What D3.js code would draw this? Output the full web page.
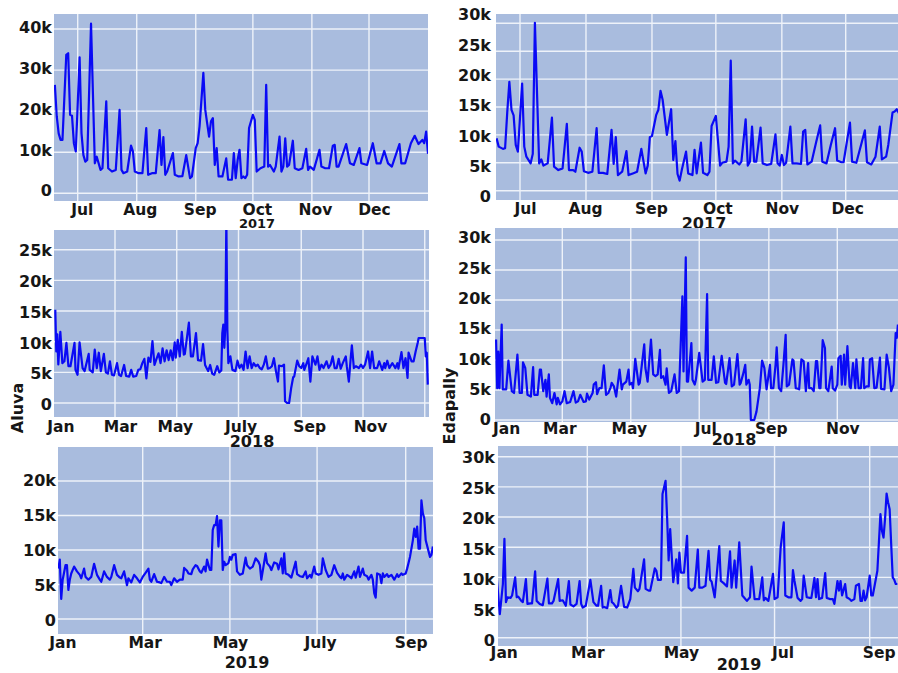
<!DOCTYPE html>
<html><head><meta charset="utf-8">
<script src="https://cdn.jsdelivr.net/npm/d3@7"></script>
<style>
html,body{margin:0;padding:0;background:#fff;}
svg{display:block;}
</style></head><body>
<svg id="chart" width="898" height="673"></svg>
<script>
// ---- DATA: [day of year (0 = Jan 1), value in thousands] ----
const aluva2017 = [[169,26.4],[170,18.7],[171,14.6],[172,13.0],[173,13.0],[175,33.7],[176,34.1],[177,19.1],[178,18.9],[179,12.2],[180,10.2],[182,33.1],[183,14.6],[184,9.3],[185,7.7],[186,8.1],[188,41.3],[190,7.3],[191,8.9],[193,5.7],[194,6.1],[196,22.4],[197,6.1],[199,5.3],[201,5.7],[203,20.3],[204,5.7],[205,4.9],[207,5.3],[209,11.6],[210,10.2],[211,5.3],[213,4.9],[215,4.9],[217,15.9],[218,4.5],[220,4.9],[222,4.9],[224,15.4],[225,6.9],[226,13.7],[227,4.5],[228,5.3],[231,9.8],[232,4.5],[234,4.1],[236,4.2],[238,9.3],[240,3.7],[241,4.1],[243,11.0],[244,12.2],[245,16.3],[247,29.3],[248,20.3],[250,13.8],[251,17.5],[252,18.3],[253,6.9],[254,11.0],[255,4.1],[257,4.1],[259,8.5],[260,3.3],[262,3.3],[263,9.8],[264,3.7],[265,8.1],[266,10.6],[267,3.7],[268,4.1],[269,3.7],[270,4.5],[271,15.9],[273,19.1],[274,17.9],[275,5.3],[277,6.1],[279,6.5],[280,26.4],[281,6.5],[282,6.9],[284,5.3],[285,6.5],[287,13.8],[288,5.3],[289,6.5],[290,13.4],[291,6.5],[292,6.9],[294,12.8],[295,6.1],[297,5.7],[299,6.1],[301,10.8],[302,5.7],[303,6.5],[305,5.7],[308,10.6],[309,6.5],[311,6.1],[313,6.1],[315,11.6],[316,11.8],[317,6.5],[318,6.5],[322,12.0],[324,7.3],[326,6.9],[329,11.0],[330,7.3],[333,6.9],[336,12.2],[338,7.3],[340,7.3],[342,10.3],[344,7.3],[346,6.5],[350,12.0],[351,7.3],[353,7.3],[356,12.2],[358,14.0],[360,12.0],[362,13.0],[363,12.2],[364,15.0],[365,9.6]];

const edapally2017 = [[170,9.4],[171,7.9],[173,7.5],[174,7.6],[175,14.0],[176,19.5],[177,14.5],[178,13.5],[179,8.2],[180,7.0],[182,19.2],[183,7.9],[184,6.1],[186,4.9],[187,6.6],[188,30.1],[190,4.9],[191,5.6],[192,4.5],[194,4.9],[196,13.1],[197,4.3],[199,3.7],[201,4.0],[203,12.0],[204,3.7],[206,3.7],[207,3.4],[209,7.7],[210,7.0],[211,3.5],[213,3.2],[215,3.4],[217,11.2],[218,3.2],[220,3.2],[222,3.0],[224,10.9],[225,4.8],[226,9.6],[227,2.8],[229,3.4],[231,7.1],[232,2.8],[234,3.1],[236,3.4],[238,7.5],[240,3.1],[241,4.5],[242,9.6],[243,9.8],[245,13.6],[246,14.5],[247,17.9],[248,16.3],[250,10.0],[252,14.6],[253,5.5],[254,8.9],[255,3.0],[256,1.8],[257,3.7],[259,7.0],[260,3.1],[262,2.8],[263,7.3],[264,3.1],[266,8.6],[267,3.2],[269,2.8],[270,3.4],[271,11.6],[273,13.4],[275,4.5],[276,5.0],[278,5.2],[279,7.9],[280,23.3],[281,4.9],[282,5.4],[284,4.7],[285,5.2],[287,12.8],[288,4.5],[289,5.2],[290,11.5],[291,5.2],[292,5.2],[294,11.3],[295,4.9],[297,4.6],[299,4.8],[301,10.1],[302,4.9],[303,4.5],[304,6.4],[305,4.6],[306,5.0],[308,11.5],[309,4.9],[311,4.9],[313,4.8],[314,10.6],[315,10.9],[316,4.7],[318,5.2],[320,8.5],[322,11.7],[323,5.2],[325,4.9],[327,8.2],[329,11.2],[330,5.4],[332,5.1],[333,5.1],[336,12.2],[337,5.2],[339,5.0],[343,10.8],[344,5.1],[346,4.7],[348,6.1],[350,11.5],[351,5.6],[353,6.1],[354,8.2],[356,14.0],[357,14.2],[358,14.6],[359,13.9]];

const aluva2018 = [[0,15.2],[1,8.4],[2,11.2],[3,6.3],[5,11.6],[7,6.5],[9,6.8],[11,9.8],[13,6.0],[15,6.0],[19,9.8],[20,5.4],[22,4.6],[24,9.9],[27,5.7],[29,5.2],[33,8.0],[34,5.4],[37,5.0],[39,8.7],[41,5.7],[43,8.2],[45,5.2],[48,8.0],[50,5.0],[52,4.8],[54,6.8],[56,4.6],[58,4.5],[61,6.5],[63,4.6],[65,4.4],[68,6.2],[70,4.4],[73,4.3],[75,5.4],[77,4.3],[80,4.4],[82,5.4],[84,5.5],[86,6.5],[88,7.2],[90,4.0],[92,7.4],[94,6.7],[96,10.1],[98,6.2],[100,7.2],[102,8.1],[104,6.5],[106,8.9],[108,6.8],[110,8.6],[112,7.0],[114,8.6],[116,7.0],[118,9.9],[119,7.4],[121,10.3],[123,7.6],[125,11.6],[127,7.9],[128,8.0],[132,13.1],[134,7.6],[136,7.6],[139,11.4],[141,7.0],[144,6.9],[146,9.6],[148,6.2],[151,5.2],[153,6.2],[155,4.8],[157,4.6],[160,6.0],[162,5.0],[164,5.3],[165,11.4],[166,12.8],[167,9.0],[168,12.5],[169,30.0],[170,12.0],[171,6.5],[173,7.6],[175,5.4],[178,5.2],[180,6.9],[182,5.7],[184,6.25],[186,5.4],[188,8.4],[190,5.7],[192,7.6],[194,5.7],[196,6.5],[198,6.0],[200,6.25],[202,5.7],[204,5.5],[206,6.25],[208,7.6],[210,5.6],[212,5.7],[214,6.0],[216,7.3],[218,5.2],[220,3.5],[221,6.1],[224,6.0],[226,6.25],[227,0.3],[229,0],[231,0],[233,2.4],[235,4.2],[236,4.3],[239,6.9],[241,6.0],[243,5.7],[245,6.5],[246,5.4],[249,6.8],[250,7.3],[252,3.5],[254,7.6],[257,6.25],[259,7.6],[261,5.4],[263,6.25],[265,5.7],[268,6.8],[270,5.7],[272,6.25],[274,7.6],[276,5.7],[278,5.7],[280,7.2],[282,5.6],[284,6.5],[287,7.6],[288,6.0],[290,3.5],[292,7.6],[293,9.4],[295,5.7],[297,6.0],[300,5.7],[302,6.25],[304,5.7],[306,6.25],[309,8.4],[311,5.7],[313,8.4],[315,5.7],[318,5.7],[320,6.8],[323,5.4],[325,6.5],[326,5.7],[328,6.9],[330,5.7],[333,6.5],[336,5.7],[338,6.5],[339,5.6],[342,8.3],[344,5.7],[346,7.3],[348,4.1],[349,8.2],[352,6.8],[354,6.8],[356,8.4],[358,9.8],[359,10.6],[362,10.6],[365,10.6],[366,7.6],[367,8.2],[368,3.0]];

const edapally2018 = [[0,13.4],[1,5.3],[2,11.4],[3,5.3],[5,15.9],[6,5.1],[9,5.1],[11,9.9],[14,4.8],[16,4.5],[19,10.9],[21,4.5],[23,4.5],[24,9.6],[26,8.7],[28,4.2],[31,3.9],[33,8.8],[34,4.2],[37,4.2],[39,8.4],[40,8.4],[42,4.8],[44,6.7],[45,3.9],[47,7.6],[48,3.7],[50,2.8],[52,4.5],[54,2.6],[55,3.7],[57,2.6],[59,3.1],[61,4.8],[63,2.8],[66,3.0],[69,4.8],[71,2.9],[73,3.1],[75,4.2],[78,3.0],[80,3.1],[81,4.4],[83,3.4],[86,4.5],[87,5.9],[89,6.3],[90,4.3],[92,5.3],[94,5.3],[96,9.1],[98,4.2],[100,4.5],[102,5.4],[103,6.2],[105,5.6],[107,3.9],[110,8.4],[112,5.1],[113,5.9],[116,6.4],[118,8.4],[119,5.9],[121,6.2],[122,5.3],[124,10.2],[127,5.9],[128,6.2],[132,12.6],[133,8.7],[135,6.4],[138,13.4],[140,7.6],[142,7.3],[144,7.6],[146,11.7],[147,7.0],[149,7.3],[151,5.9],[152,8.6],[154,4.5],[156,4.8],[159,7.6],[161,4.5],[163,4.8],[165,15.3],[166,20.6],[167,8.1],[169,27.1],[170,6.4],[171,6.4],[174,12.8],[175,6.7],[177,5.9],[178,6.7],[181,11.2],[184,6.4],[186,6.7],[188,21.0],[189,6.7],[192,6.7],[194,10.6],[196,6.2],[198,6.3],[201,10.7],[204,6.2],[205,6.0],[208,10.3],[210,5.6],[212,5.9],[215,11.0],[217,5.9],[218,6.2],[220,7.6],[222,9.2],[223,5.9],[225,6.7],[226,5.9],[227,0],[230,0],[232,1.4],[235,5.3],[237,9.9],[239,8.7],[241,5.1],[244,9.2],[245,5.3],[247,5.3],[249,9.2],[250,12.1],[252,5.3],[254,4.8],[256,9.2],[258,14.2],[259,5.6],[261,5.9],[264,10.1],[265,9.9],[267,5.3],[269,5.2],[270,5.1],[272,10.1],[274,9.8],[276,4.8],[278,9.5],[279,5.3],[281,5.3],[283,4.8],[285,9.8],[286,9.8],[288,5.3],[289,5.3],[291,13.3],[293,12.0],[294,5.3],[296,4.8],[299,8.9],[300,5.3],[302,4.9],[304,5.9],[305,10.3],[307,10.7],[308,5.9],[310,10.9],[311,5.9],[313,12.3],[315,5.6],[316,5.3],[318,9.5],[320,5.3],[321,10.1],[323,5.3],[325,5.3],[327,10.3],[328,5.3],[330,5.6],[332,5.6],[333,10.1],[335,10.3],[337,5.3],[339,5.4],[342,10.4],[343,5.2],[346,5.1],[348,10.9],[350,8.7],[352,4.8],[354,5.9],[356,14.5],[357,13.7],[358,15.9]];

const aluva2019 = [[0,7.3],[1,8.6],[2,2.9],[3,5.7],[5,7.8],[6,7.8],[7,4.2],[8,5.7],[9,6.6],[11,7.6],[13,6.9],[15,6.4],[16,5.9],[18,7.3],[19,6.1],[21,5.7],[23,6.1],[25,8.0],[27,6.4],[29,5.7],[30,5.4],[32,6.9],[34,6.1],[36,5.7],[37,6.1],[39,7.8],[41,6.4],[43,6.0],[44,5.9],[46,6.9],[48,4.9],[49,5.9],[51,5.3],[53,6.4],[55,5.9],[57,5.3],[59,6.1],[61,6.7],[63,7.3],[64,5.7],[65,5.4],[67,6.5],[69,5.4],[71,5.3],[72,5.2],[74,6.1],[76,5.4],[78,5.4],[79,4.9],[81,5.9],[83,5.4],[85,5.7],[87,5.7],[88,7.4],[90,7.0],[91,6.6],[93,6.5],[94,7.2],[96,7.8],[97,7.7],[99,6.9],[100,6.7],[102,7.6],[103,6.9],[104,8.6],[106,7.1],[107,7.1],[108,12.9],[109,13.6],[110,13.6],[111,14.9],[112,10.5],[113,14.3],[114,14.3],[115,7.1],[116,8.3],[117,7.8],[119,8.1],[120,9.0],[121,8.6],[122,9.3],[124,9.4],[125,6.9],[127,6.4],[129,6.6],[131,8.9],[132,7.8],[134,7.3],[136,7.6],[138,8.8],[140,8.3],[141,7.8],[142,5.7],[145,9.5],[146,8.1],[148,7.6],[149,7.1],[151,8.2],[153,8.0],[154,7.2],[156,8.8],[157,6.6],[158,9.5],[159,6.6],[161,6.4],[163,6.0],[166,8.3],[167,6.5],[169,6.2],[171,6.1],[173,6.9],[174,5.9],[176,6.4],[177,6.0],[179,7.6],[180,6.6],[182,6.4],[184,6.6],[185,8.8],[187,7.1],[189,6.1],[191,6.4],[193,7.8],[195,6.7],[197,6.1],[198,5.9],[199,6.6],[200,5.7],[202,6.4],[204,6.1],[205,5.9],[207,6.9],[208,6.0],[210,7.6],[211,6.1],[213,7.3],[214,6.4],[216,6.2],[217,5.7],[219,6.4],[220,5.7],[221,3.7],[222,3.1],[223,6.6],[225,6.4],[226,5.2],[227,6.6],[228,6.1],[230,6.5],[231,6.1],[233,6.4],[235,5.7],[237,6.5],[238,6.1],[240,6.6],[241,6.4],[243,6.6],[244,7.3],[246,9.0],[248,11.4],[249,13.1],[250,11.9],[251,13.4],[252,10.2],[253,10.2],[254,17.2],[255,15.3],[256,14.6],[257,11.4],[259,9.8],[260,9.0],[261,9.3],[262,10.5]];

const edapally2019 = [[0,10.0],[2,3.9],[4,8.9],[5,16.4],[6,5.9],[7,6.7],[9,6.6],[10,7.0],[12,10.0],[13,6.7],[14,6.8],[16,6.1],[17,5.9],[19,9.7],[20,5.6],[22,5.7],[23,5.7],[25,11.0],[26,6.1],[28,5.6],[30,5.4],[33,9.8],[34,5.7],[36,5.7],[37,6.1],[40,9.7],[41,6.1],[43,6.2],[45,5.3],[47,9.4],[48,5.5],[50,5.2],[52,5.6],[54,9.4],[55,5.6],[56,5.0],[58,5.3],[61,9.6],[63,5.9],[65,5.3],[66,5.3],[68,8.6],[69,5.0],[70,5.1],[72,4.9],[74,7.9],[75,5.9],[76,5.7],[78,5.0],[79,5.3],[81,8.6],[83,5.1],[85,5.0],[86,5.7],[87,6.4],[89,11.4],[90,8.3],[92,7.7],[93,8.1],[96,13.0],[97,8.1],[99,7.8],[100,7.8],[103,11.5],[104,11.1],[105,9.6],[107,9.6],[108,23.8],[109,24.9],[110,26.0],[111,19.9],[112,12.8],[113,18.0],[115,9.2],[117,13.0],[118,9.0],[119,14.1],[120,10.8],[122,10.8],[124,16.9],[125,8.3],[127,7.8],[129,8.3],[131,14.6],[132,8.3],[134,8.3],[136,8.6],[138,14.4],[139,9.6],[140,9.3],[142,6.7],[145,15.2],[146,9.4],[148,9.0],[150,8.5],[152,14.3],[153,8.3],[155,12.8],[156,8.3],[158,15.8],[160,7.0],[161,6.7],[163,6.1],[165,6.7],[166,11.8],[168,6.4],[169,6.4],[171,6.4],[173,10.0],[174,6.2],[175,6.6],[177,6.1],[180,10.6],[181,6.4],[183,6.7],[185,15.0],[187,19.1],[188,7.0],[190,6.7],[192,6.7],[193,11.2],[194,9.4],[196,6.6],[198,6.1],[199,6.4],[200,10.3],[202,6.7],[204,6.6],[205,6.6],[207,9.9],[208,6.7],[209,9.7],[210,6.4],[212,6.6],[214,10.7],[215,6.6],[217,6.4],[219,6.4],[220,5.6],[222,9.4],[223,7.8],[224,9.4],[225,7.0],[227,8.9],[228,6.7],[230,6.4],[231,6.1],[233,6.4],[234,8.6],[236,8.9],[237,6.1],[238,6.1],[239,7.8],[240,6.2],[241,6.7],[243,10.3],[244,7.0],[245,7.0],[248,11.1],[249,15.8],[250,20.5],[251,17.7],[252,16.6],[253,19.7],[254,23.9],[255,22.4],[256,21.3],[257,15.5],[258,10.0],[259,9.6],[260,8.9],[261,8.9]];

// tick values (thousands) and tick labels
const yTicks40 = [0, 10, 20, 30, 40];
const yTicks30 = [0, 5, 10, 15, 20, 25, 30];
const yTicks25 = [0, 5, 10, 15, 20, 25];
const yTicks20 = [0, 5, 10, 15, 20];
const monthsH2 = [6, 7, 8, 9, 10, 11];
const labelsH2 = ["Jul", "Aug", "Sep", "Oct", "Nov", "Dec"];
const monthsFull = [0, 2, 4, 6, 8, 10];
const labelsAluva2018 = ["Jan", "Mar", "May", "July", "Sep", "Nov"];
const labelsEdapally2018 = ["Jan", "Mar", "May", "Jul", "Sep", "Nov"];
const monthsPart = [0, 2, 4, 6, 8];
const labelsAluva2019 = ["Jan", "Mar", "May", "July", "Sep"];
const labelsEdapally2019 = ["Jan", "Mar", "May", "Jul", "Sep"];

// ---- LAYOUT ----
const panels = [
  {key:"p1", year:2017, series:aluva2017, plot:[54,14,428,201],
   xRef:[[6,77.7],[11,369]], yRef:[[0,193.3],[40,29]], yTicks:yTicks40,
   yLabRef:[[0,190],[40,27]], yLabRight:52,
   months:monthsH2, labels:labelsH2, gridMonths:[6,7,8,9,10,11],
   monthDx:[4,3,4,4,3,5], monthBase:215, yearText:"2017", yearPos:[257,228,13]},
  {key:"p2", year:2017, series:edapally2017, plot:[496,14,898,200],
   xRef:[[6,520],[11,845.7]], yRef:[[0,190.7],[30,23.3]], yTicks:yTicks30,
   yLabRef:[[0,196],[30,14]], yLabRight:491,
   months:monthsH2, labels:labelsH2, gridMonths:[6,7,8,9,10,11],
   monthDx:[5,-1,-1,1.5,0,1.5], monthBase:214, yearText:"2017", yearPos:[704,229,16]},
  {key:"p3", year:2018, series:aluva2018, plot:[54,230,429,417],
   xRef:[[2,115],[10,363]], yRef:[[0,403],[25,249.7]], yTicks:yTicks25,
   yLabRef:[[0,404],[25,250]], yLabRight:52,
   months:monthsFull, labels:labelsAluva2018, gridMonths:[2,4,6,8,10,12],
   monthDx:[5,5,-2,2,8,7], monthBase:432, yearText:"2018", yearPos:[252,447,16]},
  {key:"p4", year:2018, series:edapally2018, plot:[495,228,898,422],
   xRef:[[2,562.3],[10,837.3]], yRef:[[0,420],[30,240]], yTicks:yTicks30,
   yLabRef:[[0,419],[30,237]], yLabRight:491,
   months:monthsFull, labels:labelsEdapally2018, gridMonths:[2,4,6,8,10],
   monthDx:[10,-3,-2,6,2,5], monthBase:434, yearText:"2018", yearPos:[734,445,16]},
  {key:"p5", year:2019, series:aluva2019, plot:[58,447,433,634],
   xRef:[[2,142.7],[8,405.7]], yRef:[[0,619],[20,481]], yTicks:yTicks20,
   yLabRef:[[0,620],[20,480]], yLabRight:56,
   months:monthsPart, labels:labelsAluva2019, gridMonths:[2,4,6,8],
   monthDx:[4,2,0,3,5], monthBase:648, yearText:"2019", yearPos:[247,668,16]},
  {key:"p6", year:2019, series:edapally2019, plot:[498,446,898,646],
   xRef:[[2,587.3],[8,869.7]], yRef:[[0,637.7],[30,456.7]], yTicks:yTicks30,
   yLabRef:[[0,640],[30,457]], yLabRight:495,
   months:monthsPart, labels:labelsEdapally2019, gridMonths:[2,4,6,8],
   monthDx:[7,0,0,8,9], monthBase:658, yearText:"2019", yearPos:[739,670,16]}
];

const BG = "#a9bcde", GRID = "#eef2f9", LINE = "#0a0af5", INK = "#161616";
const FONT = "'DejaVu Sans', sans-serif";
const svg = d3.select("#chart");
const defs = svg.append("defs");
const monthDate = (yr, m) => new Date(Date.UTC(yr, m, 1));
const dayDate = (yr, d) => new Date(Date.UTC(yr, 0, 1 + d));
const kfmt = v => v === 0 ? "0" : v + "k";

panels.forEach(p => {
  const [x0, y0, x1, y1] = p.plot;
  const x = d3.scaleUtc()
    .domain([monthDate(p.year, p.xRef[0][0]), monthDate(p.year, p.xRef[1][0])])
    .range([p.xRef[0][1], p.xRef[1][1]]);
  const y = d3.scaleLinear().domain([p.yRef[0][0], p.yRef[1][0]]).range([p.yRef[0][1], p.yRef[1][1]]);
  const yLab = d3.scaleLinear().domain([p.yLabRef[0][0], p.yLabRef[1][0]]).range([p.yLabRef[0][1], p.yLabRef[1][1]]);

  defs.append("clipPath").attr("id", "clip-" + p.key)
    .append("rect").attr("x", x0).attr("y", y0).attr("width", x1 - x0).attr("height", y1 - y0);

  const g = svg.append("g");
  g.append("rect").attr("x", x0).attr("y", y0).attr("width", x1 - x0).attr("height", y1 - y0).attr("fill", BG);
  const inner = g.append("g").attr("clip-path", "url(#clip-" + p.key + ")");

  inner.selectAll("line.h").data(p.yTicks).join("line").attr("class", "h")
    .attr("x1", x0).attr("x2", x1).attr("y1", d => y(d)).attr("y2", d => y(d))
    .attr("stroke", GRID).attr("stroke-width", 1.4);
  inner.selectAll("line.v").data(p.gridMonths).join("line").attr("class", "v")
    .attr("x1", m => x(monthDate(p.year, m))).attr("x2", m => x(monthDate(p.year, m)))
    .attr("y1", y0).attr("y2", y1)
    .attr("stroke", GRID).attr("stroke-width", 1.4);

  inner.append("path").datum(p.series)
    .attr("fill", "none").attr("stroke", LINE).attr("stroke-width", 2.2)
    .attr("stroke-linejoin", "round")
    .attr("d", d3.line().x(d => x(dayDate(p.year, d[0]))).y(d => y(d[1])));

  // y tick labels
  const ya = g.append("g").attr("transform", "translate(" + p.yLabRight + ",0)")
    .call(d3.axisLeft(yLab).tickValues(p.yTicks).tickSize(0).tickPadding(0).tickFormat(kfmt));
  ya.select(".domain").remove();
  ya.attr("font-family", FONT).attr("font-size", 16).attr("font-weight", "bold");
  ya.selectAll("text").attr("fill", INK).attr("dy", "0.36em");

  // x tick labels
  const xa = g.append("g").attr("transform", "translate(0," + p.monthBase + ")")
    .call(d3.axisBottom(x).tickValues(p.months.map(m => monthDate(p.year, m))).tickSize(0)
      .tickFormat((d, i) => p.labels[i]));
  xa.select(".domain").remove();
  xa.attr("font-family", FONT).attr("font-size", 15.5).attr("font-weight", "bold");
  xa.selectAll("text").attr("fill", INK).attr("y", 0).attr("dy", 0).attr("dx", (d, i) => p.monthDx[i]);

  g.append("text").attr("x", p.yearPos[0]).attr("y", p.yearPos[1])
    .attr("text-anchor", "middle").attr("font-family", FONT).attr("font-weight", "bold")
    .attr("font-size", p.yearPos[2]).attr("fill", INK).text(p.yearText);
});

// y-axis titles
svg.append("text").attr("transform", "translate(23,408) rotate(-90)")
  .attr("text-anchor", "middle").attr("font-family", FONT).attr("font-weight", "bold")
  .attr("font-size", 16).attr("fill", INK).text("Aluva");
svg.append("text").attr("transform", "translate(455,406) rotate(-90)")
  .attr("text-anchor", "middle").attr("font-family", FONT).attr("font-weight", "bold")
  .attr("font-size", 16).attr("fill", INK).text("Edapally");
</script>
</body></html>
